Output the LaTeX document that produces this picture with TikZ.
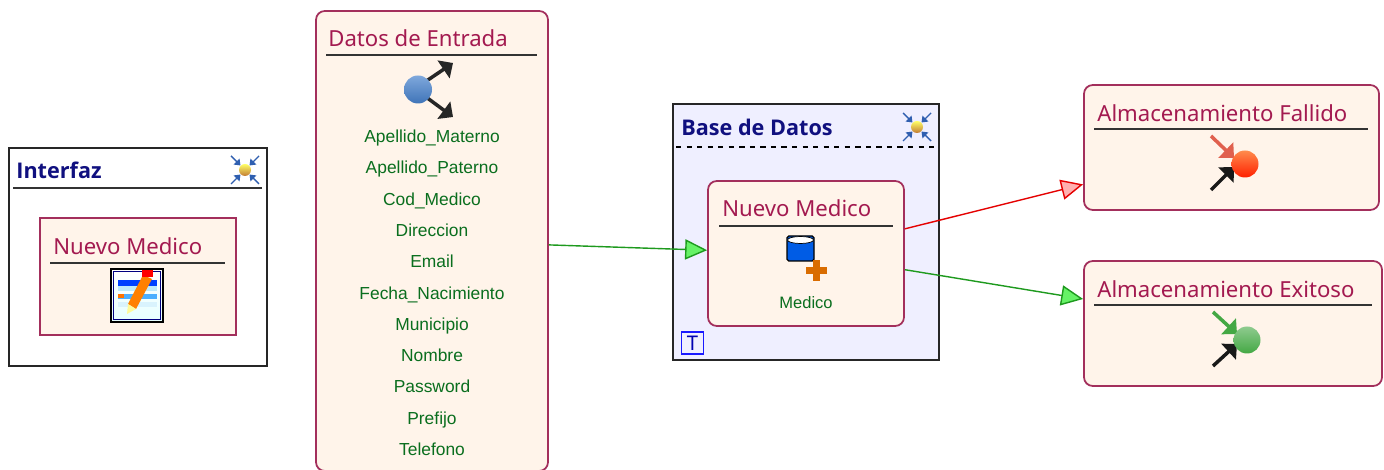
\documentclass[tikz,border=0pt]{standalone}
\usepackage{fontspec}
\setmainfont{Noto Sans}
\newfontfamily\labelfont{Liberation Sans}
\newfontfamily\groupfont{Open Sans}
\usetikzlibrary{arrows.meta,positioning}
\definecolor{boxfill}{HTML}{FFF4EA}
\definecolor{boxline}{HTML}{A32F5C}
\definecolor{titlered}{HTML}{A31A50}
\definecolor{titleblue}{HTML}{10107F}
\definecolor{labelgreen}{HTML}{0A6E1E}
\definecolor{groupfill}{HTML}{EFEFFF}
\definecolor{tipgreen}{HTML}{66F266}
\definecolor{tipred}{HTML}{FFB0B0}
\definecolor{flowgreen}{HTML}{1E9A1E}
\definecolor{iconred}{HTML}{E0604E}
\definecolor{icongreen}{HTML}{44A844}
\definecolor{iconblue}{HTML}{2F5FB0}
\definecolor{balltop}{HTML}{7FA8DC}
\definecolor{ballbottom}{HTML}{3F74B8}
\tikzset{
  groupbox/.style={draw=black!85,line width=1pt,rectangle,inner sep=0pt},
  taskbox/.style={draw=boxline,fill=boxfill,line width=1pt,inner sep=0pt,rounded corners=5pt},
  formbox/.style={draw=boxline,fill=boxfill,line width=1pt,inner sep=0pt},
  tasktitle/.style={anchor=west,inner sep=0pt,text=titlered,font=\fontsize{12.6}{14}\selectfont},
  grouptitle/.style={anchor=west,inner sep=0pt,text=titleblue,font=\groupfont\fontsize{12.3}{14}\selectfont\bfseries},
  fieldlabel/.style={inner sep=0pt,text height=7pt,text depth=2pt,text=labelgreen,font=\labelfont\fontsize{9.9}{11}\selectfont},
  titlerule/.style={black!80,line width=0.7pt},
  okflow/.style={draw=flowgreen,line width=0.8pt,-{Triangle[length=12.5pt,width=11.5pt,fill=tipgreen]}},
  koflow/.style={draw=red!90!black,line width=0.8pt,-{Triangle[length=12.5pt,width=11.5pt,fill=tipred]}},
  iconarrow/.style={line width=2pt,-{Triangle[length=6.5pt,width=12pt]}}
}
% small gold ball with four arrows pointing at it
\newcommand{\collapseicon}[1]{
  \begin{scope}[shift={(#1)}]
    \foreach \sx/\sy in {1/1,1/-1,-1/1,-1/-1}
      \draw [iconblue,line width=0.8pt,-{Triangle[length=3.2pt,width=4.6pt]}] (\sx*1.4,\sy*1.4) -- (\sx*0.45,\sy*0.45);
    \shade [top color=yellow!60!white,bottom color=orange!70!black!80] (0,0) circle (0.6);
  \end{scope}
}
\begin{document}
\begin{tikzpicture}[scale=0.2]
    \useasboundingbox (0,0) rectangle (138.4,-47);
    \fill [white] (0,0) rectangle (138.4,-47);
    % Interfaz
    \node [groupbox,fill=white,minimum width=51.6mm,minimum height=43.6mm] (interfaz) at (13.8,-25.7) {};
    \node [grouptitle] (interfaztitle) at (1.6,-17) {Interfaz};
    \draw [titlerule] (1.3,-18.8) -- (26.2,-18.8);
    \collapseicon{24.5,-17}
    \node [formbox,minimum width=39.2mm,minimum height=23.4mm] (formulario) at (13.8,-27.65) {};
    \node [tasktitle] (formulariotitle) at (5.3,-24.6) {Nuevo Medico};
    \draw [titlerule] (5,-26.3) -- (22.5,-26.3);
    % form icon
    \shade [top color=white,bottom color=cyan!10!white] (11.1,-26.9) rectangle (16.3,-32.2);
    \fill [blue!75!cyan] (11.8,-28) rectangle (15.7,-28.6);
    \fill [cyan!25!white] (11.8,-28.6) rectangle (15.7,-29.1);
    \fill [blue!45!cyan!70] (11.8,-29.4) rectangle (15.7,-29.9);
    \fill [orange!90!red] (11.8,-29.4) rectangle (12.4,-29.8);
    \fill [cyan!15!white] (11.8,-30.2) rectangle (15.7,-30.7);
    \draw [blue!50!black,line width=0.6pt] (11.35,-27.15) rectangle (16.05,-31.95);
    \draw [black,line width=1.2pt] (11.1,-26.9) rectangle (16.3,-32.2);
    \fill [orange] (12.8,-30.4) -- (14.3,-27.5) -- (15.2,-27.9) -- (13.6,-30.9) -- cycle;
    \fill [yellow!40!white] (12.8,-30.4) -- (13.6,-30.9) -- (12.7,-31.4) -- cycle;
    \fill [red] (14.2,-27) rectangle (15.3,-27.7);
    % Datos de Entrada
    \node [taskbox,minimum width=46.4mm,minimum height=92mm] (entrada) at (43.2,-24.1) {};
    \node [tasktitle] (entradatitle) at (32.8,-3.8) {Datos de Entrada};
    \draw [titlerule] (32.6,-5.5) -- (53.7,-5.5);
    \draw [iconarrow,black!85] (42.2,-8.4) -- (45.3,-6.3);
    \draw [iconarrow,black!85] (42.2,-9.4) -- (45.3,-11.7);
    \shade [top color=balltop,bottom color=ballbottom] (41.8,-8.95) circle (1.4);
    \foreach \fname/\fy in {Apellido\_Materno/13.8,Apellido\_Paterno/16.9,Cod\_Medico/20.1,Direccion/23.2,Email/26.3,Fecha\_Nacimiento/29.5,Municipio/32.6,Nombre/35.7,Password/38.8,Prefijo/42,Telefono/45.1}
      \node [fieldlabel] at (43.2,-\fy) {\fname};
    % Base de Datos
    \node [groupbox,fill=groupfill,minimum width=53.2mm,minimum height=51.2mm] (base) at (80.6,-23.2) {};
    \node [grouptitle] (basetitle) at (68.1,-12.7) {Base de Datos};
    \draw [black,line width=0.7pt,dashed] (67.6,-14.7) -- (93.7,-14.7);
    \collapseicon{91.7,-12.7}
    \node [draw=blue!90!white,line width=1pt,inner sep=0pt,minimum width=4.4mm,minimum height=4.4mm,text=blue!70!black,font=\fontsize{11.5}{12}\selectfont] (transaccion) at (69.25,-34.3) {T};
    \node [taskbox,minimum width=39.2mm,minimum height=29mm] (medico) at (80.6,-25.35) {};
    \node [tasktitle] (medicotitle) at (72.2,-20.8) {Nuevo Medico};
    \draw [titlerule] (71.9,-22.6) -- (89.3,-22.6);
    % table icon with plus
    \draw [black,line width=0.7pt,rounded corners=1pt,fill=blue!60!cyan!90!black] (78.7,-23.6) rectangle (81.4,-26.1);
    \draw [black,line width=0.4pt,fill=white] (80.05,-24) ellipse (1.3 and 0.35);
    \fill [orange!85!black] (81.25,-26.05) rectangle (81.95,-28.15);
    \fill [orange!85!black] (80.55,-26.75) rectangle (82.65,-27.45);
    \node [fieldlabel,font=\labelfont\fontsize{9.4}{10}\selectfont] (medicolabel) at (80.6,-30.45) {Medico};
    % Almacenamiento Fallido
    \node [taskbox,minimum width=59mm,minimum height=25mm] (fallido) at (123.15,-14.75) {};
    \node [tasktitle] (fallidotitle) at (109.7,-11.3) {Almacenamiento Fallido};
    \draw [titlerule] (109.4,-12.9) -- (136.8,-12.9);
    \draw [iconarrow,iconred] (121.1,-13.6) -- (123.4,-15.8);
    \draw [iconarrow,black!90] (121.1,-19) -- (123.4,-16.7);
    \shade [top color=orange!70!red!70,bottom color=red!75!orange] (124.5,-16.4) circle (1.35);
    % Almacenamiento Exitoso
    \node [taskbox,minimum width=59.6mm,minimum height=25mm] (exitoso) at (123.3,-32.35) {};
    \node [tasktitle] (exitosotitle) at (109.7,-28.9) {Almacenamiento Exitoso};
    \draw [titlerule] (109.4,-30.5) -- (137.2,-30.5);
    \draw [iconarrow,icongreen] (121.3,-31.2) -- (123.7,-33.4);
    \draw [iconarrow,black!90] (121.3,-36.6) -- (123.7,-34.4);
    \shade [top color=icongreen!60,bottom color=icongreen] (124.7,-34) circle (1.35);
    % flows
    \draw [okflow] (entrada) -- (medico);
    \draw [koflow] (medico) -- (fallido);
    \draw [okflow] (medico) -- (exitoso);
  \end{tikzpicture}
\end{document}
